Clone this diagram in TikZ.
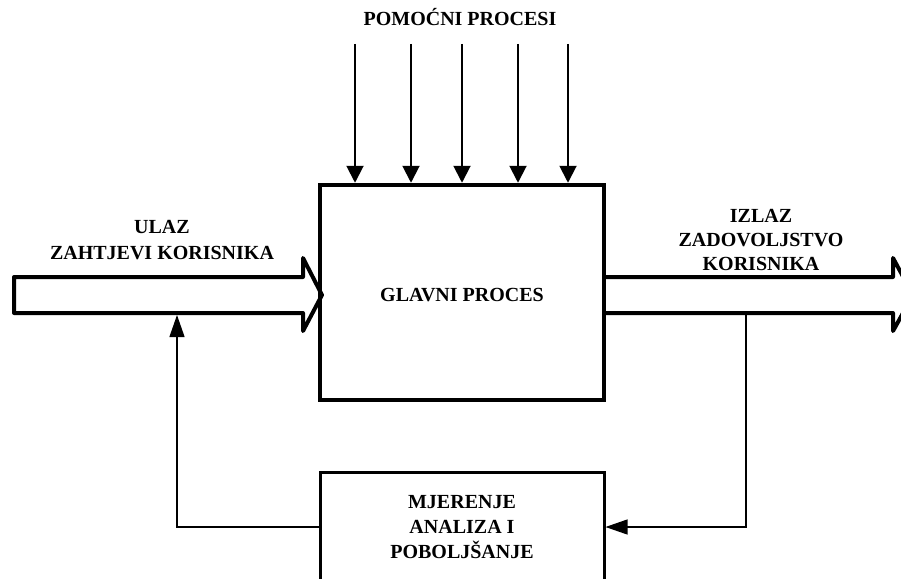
\documentclass[tikz,border=0pt]{standalone}
\usepackage{fontspec}
\setmainfont{Liberation Serif}
\usetikzlibrary{arrows.meta}
\begin{document}
\begin{tikzpicture}[x=1pt,y=-1pt,
  lbl/.style={font=\bfseries\fontsize{20}{25.2}\selectfont, align=center, inner sep=0pt},
  mainbox/.style={lbl, draw, line width=4.5pt, minimum width=284pt, minimum height=215pt},
  sidebox/.style={lbl, draw, line width=3pt, minimum width=284pt, minimum height=110pt},
  flow/.style={draw, fill=white, line width=4pt, line join=round},
  feed/.style={-{Triangle[length=17pt,width=17pt]}, line width=2pt},
  loopline/.style={-{Triangle[length=22pt,width=15pt]}, line width=1.2pt}
]
\useasboundingbox (0,0) rectangle (901,578);
\clip (0,0) rectangle (901,578);

% input flow (hollow block arrow)
\path[flow] (14,277) -- (303,277) -- (303,258) -- (322,295) -- (303,331)
  -- (303,313) -- (14,313) -- cycle;
% output flow (hollow block arrow)
\fill[white] (604,277) -- (893,277) -- (893,258) -- (913,295) -- (893,331)
  -- (893,313) -- (604,313) -- cycle;
\draw[line width=4pt, line join=round] (604,277) -- (893,277) -- (893,258)
  -- (913,295) -- (893,331) -- (893,313) -- (604,313);

% process boxes
\node[mainbox, text height=18.2pt] (glavni) at (462,292.5) {GLAVNI PROCES};
\node[sidebox] (mjerenje) at (462,527) {MJERENJE\\ANALIZA I\\POBOLJŠANJE};

% supporting processes
\node[lbl, anchor=base] (pomocni) at (460,26) {POMOĆNI PROCESI};
\foreach \x in {355,411,462,518,568}
  \draw[feed] (\x,44) -- (\x,0 |- glavni.north);

% flow labels (anchored at the baseline of the last line)
\node[lbl, anchor=base] (ulaz) at (162,259) {ULAZ\\ZAHTJEVI KORISNIKA};
\node[lbl, anchor=base, font=\bfseries\fontsize{20}{24}\selectfont] (izlaz) at (761,270) {IZLAZ\\ZADOVOLJSTVO\\KORISNIKA};

% feedback loop
\coordinate (fbout) at (746,315);
\coordinate (fbin) at (177,315);
\draw[loopline] (fbout) -- (fbout |- mjerenje.east) -- (mjerenje.east);
\draw[loopline] (mjerenje.west) -- (fbin |- mjerenje.west) -- (fbin);
\end{tikzpicture}
\end{document}
